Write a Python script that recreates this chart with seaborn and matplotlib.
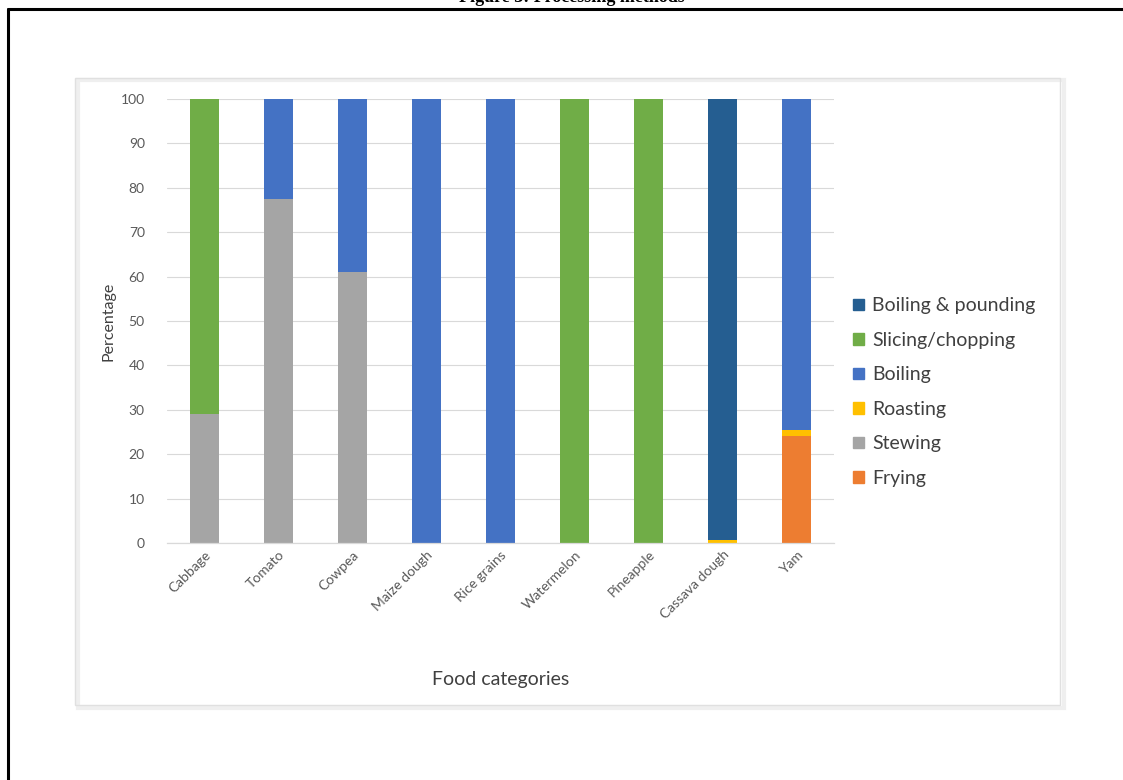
import matplotlib
matplotlib.use("Agg")
import matplotlib.pyplot as plt
import seaborn as sns
import numpy as np
from matplotlib.patches import Rectangle
from matplotlib.lines import Line2D

categories = ["Cabbage", "Tomato", "Cowpea", "Maize dough", "Rice grains",
              "Watermelon", "Pineapple", "Cassava dough", "Yam"]
frying = [0, 0, 0, 0, 0, 0, 0, 0, 24]
stewing = [29, 77.5, 61, 0, 0, 0, 0, 0, 0]
roasting = [0, 0, 0, 0, 0, 0, 0, 0.6, 1.5]
boiling = [0, 22.5, 39, 100, 100, 0, 0, 0, 74.5]
slicing = [71, 0, 0, 0, 0, 100, 100, 0, 0]
boiling_pounding = [0, 0, 0, 0, 0, 0, 0, 99.4, 0]

series = [
    ("Frying", frying, "#ED7D31"),
    ("Stewing", stewing, "#A5A5A5"),
    ("Roasting", roasting, "#FFC000"),
    ("Boiling", boiling, "#4472C4"),
    ("Slicing/chopping", slicing, "#70AD47"),
    ("Boiling & pounding", boiling_pounding, "#255E91"),
]

sns.set_theme(style="white")
plt.rcParams["font.family"] = ["Lato", "DejaVu Sans"]

W, H = 1123, 780
fig = plt.figure(figsize=(W / 100, H / 100), dpi=100)

def fx(px):
    return px / W

def fy(py):
    return 1 - py / H

ax = fig.add_axes([fx(167), fy(543), fx(834) - fx(167), fy(99) - fy(543)])

bottom = np.zeros(len(categories))
handles = []
for name, vals, col in series:
    sns.barplot(x=categories, y=vals, bottom=bottom, color=col, width=0.39,
                ax=ax, saturation=1, linewidth=0)
    bottom = bottom + np.array(vals)
    handles.append(Rectangle((0, 0), 1, 1, color=col, label=name))

ax.set_ylim(0, 100)
ax.set_xlim(-0.5, len(categories) - 0.5)
ax.set_yticks(range(0, 101, 10))
ax.yaxis.grid(True, color="#D9D9D9", linewidth=0.8)
ax.set_axisbelow(True)
for s in ["top", "right", "left"]:
    ax.spines[s].set_visible(False)
ax.spines["bottom"].set_color("#D9D9D9")
ax.spines["bottom"].set_linewidth(0.9)
ax.tick_params(axis="both", length=0, colors="#595959", labelsize=10)
ax.tick_params(axis="y", pad=16)
ax.tick_params(axis="x", labelsize=10, pad=4)
plt.setp(ax.get_xticklabels(), rotation=45, ha="right", rotation_mode="anchor")
ax.set_xlabel("Food categories", fontsize=14, color="#404040", labelpad=36)
ax.set_ylabel("Percentage", fontsize=11.5, color="#404040", labelpad=4)

leg = ax.legend(handles=handles[::-1], loc="center left",
                bbox_to_anchor=(1.0, 0.34), frameon=False, fontsize=14,
                labelcolor="#404040", handlelength=0.55, handleheight=0.55,
                handletextpad=0.4, labelspacing=0.9, borderaxespad=0.6)

# inner chart border with soft shadow
fig.patches.append(Rectangle((fx(78), fy(708)), fx(1064) - fx(78), fy(80) - fy(708),
                             transform=fig.transFigure, fill=False,
                             edgecolor="#EFEFEF", linewidth=3, zorder=0))
fig.patches.append(Rectangle((fx(75), fy(705)), fx(1060) - fx(75), fy(78) - fy(705),
                             transform=fig.transFigure, fill=False,
                             edgecolor="#E0E0E0", linewidth=1, zorder=1))

# outer frame (top and left)
fig.add_artist(Line2D([fx(8), 1.0], [fy(9), fy(9)], transform=fig.transFigure,
                      color="black", linewidth=2.2))
fig.add_artist(Line2D([fx(8), fx(8)], [fy(9), 0.0], transform=fig.transFigure,
                      color="black", linewidth=2.2))

fig.text(fx(572), fy(2.5), "Figure 3: Processing methods", ha="center",
         va="baseline", fontsize=13, fontweight="bold",
         family=["Liberation Serif", "DejaVu Serif"], color="black")

fig.savefig("out.png", dpi=100)
